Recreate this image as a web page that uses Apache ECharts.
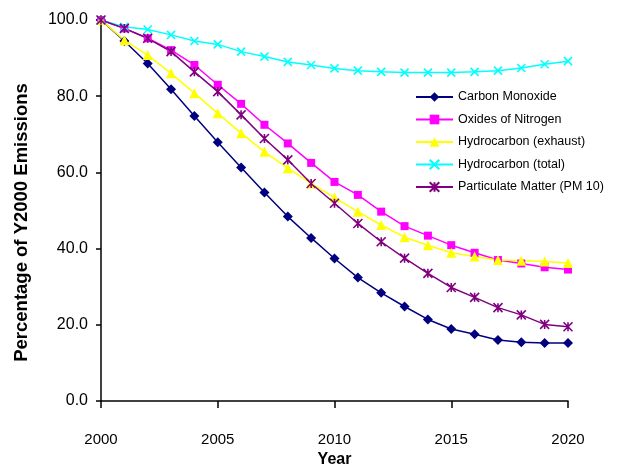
<!DOCTYPE html>
<html>
<head>
<meta charset="utf-8">
<script src="https://cdn.jsdelivr.net/npm/echarts@6/dist/echarts.min.js"></script>
<style>
  html, body { margin: 0; padding: 0; background: #fff; }
  #chart { width: 621px; height: 466px; }
</style>
</head>
<body>
<div id="chart"></div>
<script>
const years = [2000, 2001, 2002, 2003, 2004, 2005, 2006, 2007, 2008, 2009, 2010,
  2011, 2012, 2013, 2014, 2015, 2016, 2017, 2018, 2019, 2020]

const carbonMonoxide = [100, 94.5, 88.6, 81.8, 74.8, 67.9, 61.3, 54.7, 48.4, 42.8, 37.4,
  32.4, 28.4, 24.8, 21.4, 18.9, 17.5, 16.0, 15.4, 15.2, 15.2]
const oxidesNitrogen = [100, 97.8, 95.2, 92.1, 88.2, 83.0, 78.0, 72.5, 67.6, 62.5, 57.5,
  54.1, 49.7, 45.9, 43.4, 40.9, 38.9, 37.0, 36.1, 35.1, 34.5]
const hcExhaust = [100, 94.7, 90.8, 86.0, 80.8, 75.5, 70.3, 65.4, 61.1, 57.1, 53.4,
  49.7, 46.2, 43.0, 40.9, 38.9, 37.9, 37.0, 36.8, 36.6, 36.2]
const hcTotal = [100, 98.2, 97.5, 96.1, 94.5, 93.6, 91.7, 90.4, 89.0, 88.2, 87.3,
  86.7, 86.4, 86.2, 86.2, 86.2, 86.4, 86.7, 87.4, 88.4, 89.2]
const particulate = [100, 97.8, 95.2, 91.7, 86.4, 81.2, 75.1, 68.9, 63.3, 57.1, 51.9,
  46.6, 41.8, 37.5, 33.5, 29.8, 27.2, 24.5, 22.6, 20.1, 19.5]

const xTicks = [2000, 2005, 2010, 2015, 2020]
const yTicks = [0, 20, 40, 60, 80, 100]

const pairs = arr => years.map((y, i) => [y, arr[i]])

const crossPath = 'path://M0,0L10,10M10,0L0,10'
const starPath = 'path://M0,0L10,10M10,0L0,10M5,0L5,10'
const font = 'Liberation Sans, Arial, sans-serif'

function lineSeries(name, arr, color, symbol, size, lineOnlySymbol) {
  return {
    name: name,
    type: 'line',
    data: pairs(arr),
    symbol: symbol,
    symbolSize: size,
    clip: false,
    lineStyle: { color: color, width: 1.5 },
    itemStyle: lineOnlySymbol
      ? { color: color, borderColor: color, borderWidth: 1.6 }
      : { color: color, borderWidth: 0 },
    emphasis: { disabled: true },
  }
}

const chart = echarts.init(document.getElementById('chart'))
chart.setOption({
  animation: false,
  grid: { left: 101, right: 53, top: 20, bottom: 65, outerBoundsMode: 'none' },
  legend: {
    orient: 'vertical',
    left: 415,
    top: 89.5,
    padding: 0,
    itemWidth: 37,
    itemHeight: 12,
    itemGap: 7.5,
    textStyle: { fontFamily: font, fontSize: 12.5, lineHeight: 15, color: '#000' },
    data: ['Carbon Monoxide', 'Oxides of Nitrogen', 'Hydrocarbon (exhaust)',
      'Hydrocarbon (total)', 'Particulate Matter (PM 10)'],
  },
  xAxis: {
    type: 'value',
    min: xTicks[0],
    max: xTicks[xTicks.length - 1],
    interval: 5,
    name: 'Year',
    nameLocation: 'middle',
    nameGap: 50,
    nameTextStyle: { fontFamily: font, fontSize: 16, fontWeight: 'bold', color: '#000' },
    axisLine: { lineStyle: { color: '#000', width: 1.5 } },
    axisTick: { length: 7, lineStyle: { color: '#000', width: 1.5 } },
    axisLabel: {
      margin: 31,
      fontFamily: font,
      fontSize: 15,
      color: '#000',
      formatter: v => String(v),
    },
    splitLine: { show: false },
  },
  yAxis: {
    type: 'value',
    min: yTicks[0],
    max: yTicks[yTicks.length - 1],
    interval: 20,
    name: 'Percentage of Y2000 Emissions',
    nameLocation: 'middle',
    nameGap: 70,
    nameTextStyle: {
      fontFamily: font, fontSize: 18.5, fontWeight: 'bold', color: '#000',
      padding: [0, 24, 0, 0],
    },
    axisLine: { show: true, lineStyle: { color: '#000', width: 1.5 } },
    axisTick: { show: true, length: 5, lineStyle: { color: '#000', width: 1.5 } },
    axisLabel: {
      margin: 13,
      fontFamily: font,
      fontSize: 16,
      color: '#000',
      formatter: v => v.toFixed(1),
    },
    splitLine: { show: false },
  },
  series: [
    lineSeries('Carbon Monoxide', carbonMonoxide, '#000080', 'diamond', 10, false),
    lineSeries('Oxides of Nitrogen', oxidesNitrogen, '#FF00FF', 'rect', 8, false),
    lineSeries('Hydrocarbon (exhaust)', hcExhaust, '#FFFF00', 'triangle', 10, false),
    lineSeries('Hydrocarbon (total)', hcTotal, '#00FFFF', crossPath, 8, true),
    lineSeries('Particulate Matter (PM 10)', particulate, '#800080', starPath, 9, true),
  ],
})
</script>
</body>
</html>
